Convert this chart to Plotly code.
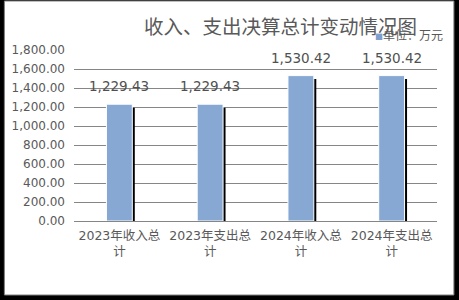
import plotly.graph_objects as go

categories = ["2023年收入总<br>计", "2023年支出总<br>计", "2024年收入总<br>计", "2024年支出总<br>计"]
values = [1229.43, 1229.43, 1530.42, 1530.42]
value_labels = ["1,229.43", "1,229.43", "1,530.42", "1,530.42"]
y_ticks = [0, 200, 400, 600, 800, 1000, 1200, 1400, 1600, 1800]
y_tick_labels = ["0.00", "200.00", "400.00", "600.00", "800.00", "1,000.00",
                 "1,200.00", "1,400.00", "1,600.00", "1,800.00"]
title_text = "收入、支出决算总计变动情况图"
unit_text = "单位：万元"

W, H = 459, 300
L, R, T, B = 72, 22, 50, 79
pw, ph = W - L - R, H - T - B

bar_w = 0.285
ymax = 1800
px_x = 1.0 / (pw / 4)      # category units per px
px_y = ymax / ph           # data units per px

fig = go.Figure()

# shadow bars
fig.add_trace(go.Bar(
    x=categories, y=values, base=[-3.5 * px_y] * len(values),
    width=bar_w, offset=-bar_w / 2 + 2.5 * px_x,
    marker=dict(color="black", line=dict(width=0)),
    showlegend=False, hoverinfo="skip"))

# main bars
fig.add_trace(go.Bar(
    x=categories, y=values, width=bar_w,
    marker=dict(color="#86a8d2", line=dict(color="white", width=1)),
    showlegend=False))

for c, v, t in zip(categories, values, value_labels):
    fig.add_annotation(x=c, y=v, text=t, showarrow=False, yanchor="bottom",
                       yshift=8, font=dict(family="DejaVu Sans", size=13.5, color="#505050"))

fig.add_annotation(xref="paper", yref="paper", x=(280 - L) / pw, y=(T + ph - 25) / ph,
                   text=title_text, showarrow=False, xanchor="center", yanchor="middle",
                   font=dict(family="Noto Sans CJK SC", size=19.5, color="#595959"))
fig.add_annotation(xref="paper", yref="paper", x=(373 - L) / pw, y=(T + ph - 35) / ph,
                   text="<span style='font-size:8px;color:#7f9fce'>■</span>" + unit_text,
                   showarrow=False, xanchor="left", yanchor="middle",
                   font=dict(family="Noto Sans CJK SC", size=12, color="#595959"))

# chart area background with grey border (black surround)
fig.add_shape(type="rect", xref="paper", yref="paper", layer="below",
              x0=(2 - L) / pw, x1=(454 - L) / pw,
              y0=(T + ph - 295) / ph, y1=(T + ph - 1) / ph,
              fillcolor="white", line=dict(color="#808080", width=1))

fig.update_layout(
    width=W, height=H, margin=dict(l=L, r=R, t=T, b=B),
    paper_bgcolor="black", plot_bgcolor="rgba(0,0,0,0)",
    barmode="overlay", showlegend=False,
    font=dict(family="DejaVu Sans, Noto Sans CJK SC", color="#595959"),
)
fig.update_xaxes(showgrid=False, showline=True, linecolor="#868686", linewidth=1,
                 tickfont=dict(size=12.5, family="DejaVu Sans, Noto Sans CJK SC", color="#595959"),
                 ticks="", ticklabelstandoff=3)
fig.update_yaxes(range=[0, ymax], tickvals=y_ticks, ticktext=y_tick_labels,
                 showgrid=True, gridcolor="#868686", gridwidth=1, zeroline=False,
                 showline=False, ticks="", ticklabelstandoff=8,
                 tickfont=dict(size=12, family="DejaVu Sans", color="#595959"))

fig.write_html("out.html")
